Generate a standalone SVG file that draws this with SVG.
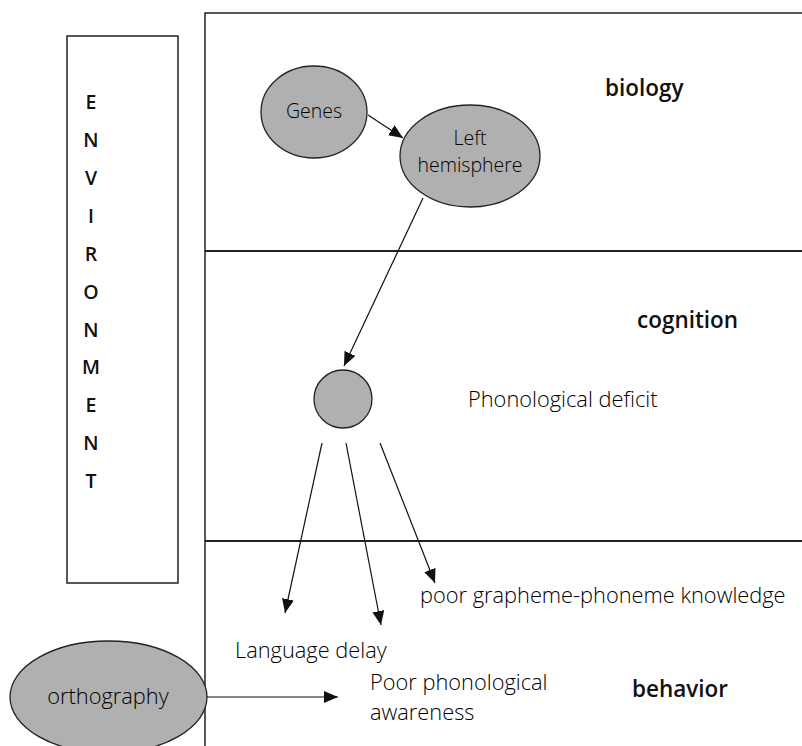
<svg xmlns="http://www.w3.org/2000/svg" width="802" height="746" viewBox="0 0 802 746">
<defs>
<style>
.bg{fill:#ffffff}
.frame{stroke:#222;stroke-width:1.5;fill:none}
.band{stroke:#222;stroke-width:2.2;fill:none}
.node{fill:#b0b0b0;stroke:#222;stroke-width:1.3}
.txt{font-family:"Open Sans","Liberation Sans",sans-serif;fill:#000;font-size:21.8px;font-weight:300}
.inner{font-size:19.5px}
.lbl{font-family:"Open Sans","Liberation Sans",sans-serif;fill:#111;font-size:22.5px;font-weight:600}
.env{font-family:"Open Sans","Liberation Sans",sans-serif;fill:#111;font-size:19.5px;font-weight:600;text-anchor:middle}
.conn{stroke:#111;stroke-width:1.2;fill:none;marker-end:url(#ah)}
</style>
<marker id="ah" viewBox="0 0 14 12" refX="14" refY="6" markerWidth="14" markerHeight="12" markerUnits="userSpaceOnUse" orient="auto">
<path d="M0,0 L14,6 L0,12 Z" fill="#111"/>
</marker>
</defs>
<rect class="bg" x="0" y="0" width="802" height="746"/>

<g id="frame">
<path class="frame" d="M205,746 L205,13 L802,13"/>
<path class="band" d="M205,251 L802,251"/>
<path class="band" d="M205,541 L802,541"/>
</g>

<g id="environment">
<rect class="frame" x="67" y="36" width="111" height="547"/>
<text class="env" x="91" y="109">E</text>
<text class="env" x="91" y="147">N</text>
<text class="env" x="91" y="185">V</text>
<text class="env" x="91" y="223">I</text>
<text class="env" x="91" y="261">R</text>
<text class="env" x="91" y="299">O</text>
<text class="env" x="91" y="337">N</text>
<text class="env" x="91" y="374">M</text>
<text class="env" x="91" y="412">E</text>
<text class="env" x="91" y="450">N</text>
<text class="env" x="91" y="488">T</text>
</g>

<g id="label-biology"><text class="lbl" x="605" y="96">biology</text></g>
<g id="label-cognition"><text class="lbl" x="637" y="328">cognition</text></g>
<g id="label-behavior"><text class="lbl" x="632" y="697">behavior</text></g>

<g id="genes">
<ellipse class="node" cx="314" cy="112" rx="53" ry="46"/>
<text class="txt inner" x="314" y="118" text-anchor="middle">Genes</text>
</g>

<g id="left-hemisphere">
<ellipse class="node" cx="470" cy="156" rx="70" ry="51"/>
<text class="txt inner" x="470" y="145" text-anchor="middle">Left</text>
<text class="txt inner" x="470" y="172" text-anchor="middle">hemisphere</text>
</g>

<g id="phonological-deficit">
<circle class="node" cx="343" cy="399" r="29"/>
<text class="txt" x="468" y="407">Phonological deficit</text>
</g>

<g id="grapheme-phoneme"><text class="txt" x="420" y="603">poor grapheme-phoneme knowledge</text></g>
<g id="language-delay"><text class="txt" x="235" y="658">Language delay</text></g>
<g id="phonological-awareness">
<text class="txt" x="370" y="690">Poor phonological</text>
<text class="txt" x="370" y="720">awareness</text>
</g>

<g id="orthography">
<ellipse class="node" cx="108.5" cy="697" rx="98.5" ry="56"/>
<text class="txt" x="108" y="704" text-anchor="middle">orthography</text>
</g>

<g id="connectors">
<path class="conn" d="M368,115 L403,138"/>
<path class="conn" d="M423,198 L344,366"/>
<path class="conn" d="M322,443 L285,613"/>
<path class="conn" d="M346,443 L381,625"/>
<path class="conn" d="M380,443 L435,583"/>
<path class="conn" d="M207,697 L338,697"/>
</g>
</svg>
